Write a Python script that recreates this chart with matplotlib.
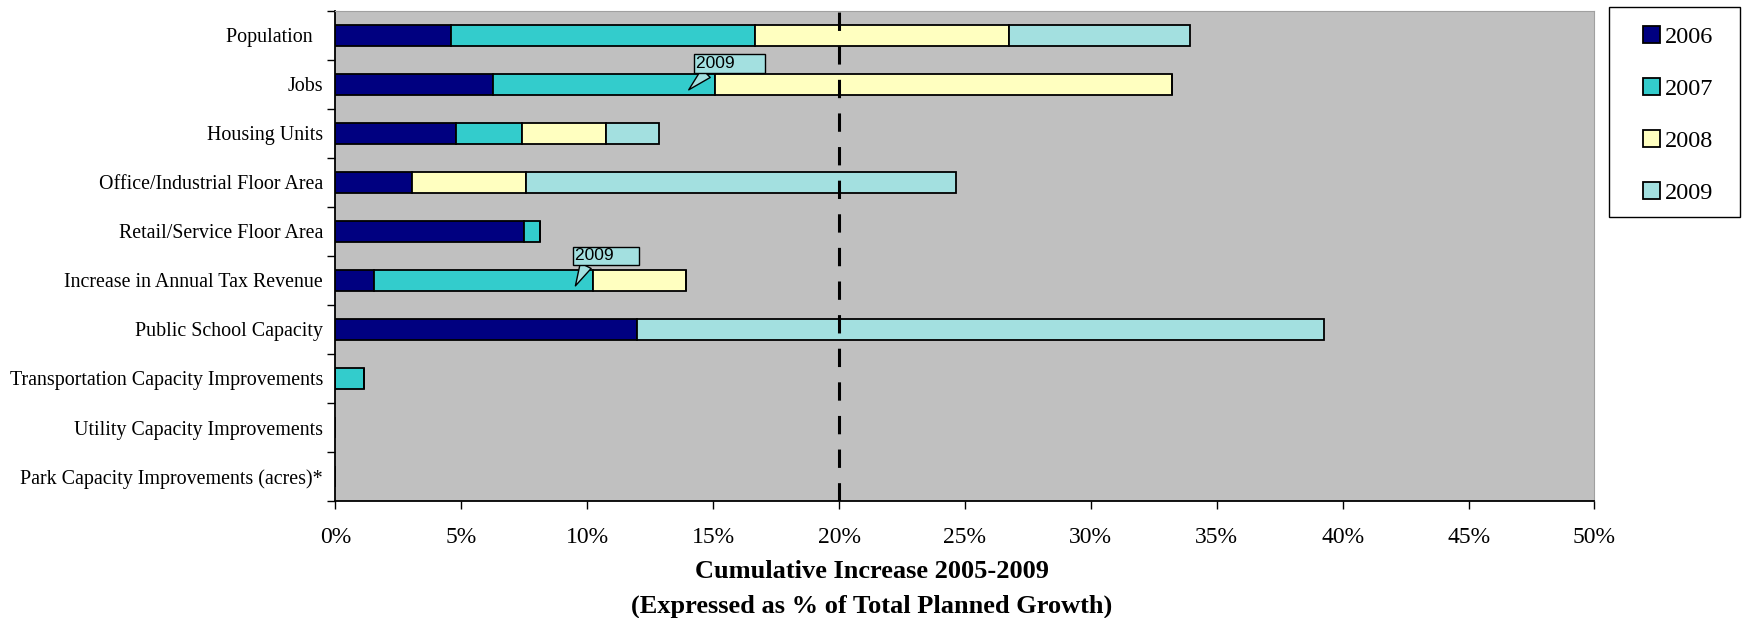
import matplotlib.pyplot as plt
import numpy as np
from matplotlib.ticker import FuncFormatter
from matplotlib.patches import Rectangle

# data (fraction of total planned growth added in each year)
categories = ["Population  ", "Jobs", "Housing Units", "Office/Industrial Floor Area",
              "Retail/Service Floor Area", "Increase in Annual Tax Revenue",
              "Public School Capacity", "Transportation Capacity Improvements",
              "Utility Capacity Improvements", "Park Capacity Improvements (acres)*"]
years = ["2006", "2007", "2008", "2009"]
v2006 = [0.046, 0.0624, 0.0478, 0.0305, 0.0747, 0.0155, 0.1198, 0.0, 0.0, 0.0]
v2007 = [0.1206, 0.0884, 0.0264, 0.0, 0.0066, 0.0869, 0.0, 0.0115, 0.0, 0.0]
v2008 = [0.101, 0.1815, 0.0331, 0.0451, 0.0, 0.0369, 0.0, 0.0, 0.0, 0.0]
v2009 = [0.0716, 0.0, 0.0212, 0.1707, 0.0, 0.0, 0.2726, 0.0, 0.0, 0.0]
colors = ["#000080", "#33CCCC", "#FFFFC0", "#A3E0E0"]
target = 0.20

plt.rcParams['font.family'] = ['Liberation Serif', 'DejaVu Serif']

fig = plt.figure(figsize=(17.47, 6.18), dpi=100)
ax = fig.add_axes([0.192, 0.1893, 0.7207, 0.793])
ax.set_facecolor("#C0C0C0")

y = np.arange(len(categories))
left = np.zeros(len(categories))
bars = []
for vals, c, lab in zip([v2006, v2007, v2008, v2009], colors, years):
    vals = np.array(vals)
    b = ax.barh(y, vals, left=left, height=0.43, color=c, edgecolor="black",
                linewidth=1.3, label=lab)
    bars.append(b)
    left = left + vals

ax.axvline(target, color="black", lw=2.2, dashes=(6, 5), zorder=3)

ax.set_xlim(0, 0.5)
ax.set_ylim(len(categories) - 0.5, -0.5)
ax.set_xticks(np.arange(0, 0.501, 0.05))
ax.xaxis.set_major_formatter(FuncFormatter(lambda v, p: f"{v*100:.0f}%"))
ax.tick_params(axis='x', direction='out', length=6, width=1, pad=13, labelsize=17)
ax.set_yticks(y, categories)
ax.tick_params(axis='y', length=0, pad=9, labelsize=14.4)
ax.set_yticks(np.arange(len(categories) + 1) - 0.5, minor=True)
ax.tick_params(axis='y', which='minor', direction='out', length=6, width=1)

for s in ["left", "bottom"]:
    ax.spines[s].set_color("black")
    ax.spines[s].set_linewidth(1.3)
for s in ["top", "right"]:
    ax.spines[s].set_color("#A0A0A0")

ax.set_xlabel("Cumulative Increase 2005-2009\n(Expressed as % of Total Planned Growth)",
              fontsize=19, fontweight="bold", linespacing=1.6)
ax.xaxis.set_label_coords(0.426, -0.121)

# callouts for 2009 values that are missing from the bars
callout = dict(boxstyle="square,pad=0.1", fc=colors[3], ec="black", lw=1)
ax.annotate("2009      ", xy=(v2006[1] + v2007[1] - 0.0105, 1.11), xytext=(0.1430, 0.57),
            fontsize=12.5, family=["Liberation Sans"], ha="left", va="center",
            bbox=callout, zorder=5,
            arrowprops=dict(arrowstyle="wedge,tail_width=0.7", fc=colors[3], ec="black",
                            lw=1, shrinkA=0, shrinkB=0, relpos=(0.2, 0.05)))
ax.annotate("2009     ", xy=(v2006[5] + v2007[5] - 0.0071, 5.11), xytext=(0.0950, 4.5),
            fontsize=12.5, family=["Liberation Sans"], ha="left", va="center",
            bbox=callout, zorder=5,
            arrowprops=dict(arrowstyle="wedge,tail_width=0.7", fc=colors[3], ec="black",
                            lw=1, shrinkA=0, shrinkB=0, relpos=(0.2, 0.05)))

# legend box drawn separately so the padding matches
fig.patches.append(Rectangle((0.921, 0.649), 0.075, 0.340, transform=fig.transFigure,
                             fc="white", ec="black", lw=1, zorder=0))
leg = fig.legend(handles=bars, labels=years, loc="upper left",
                 bbox_to_anchor=(0.9405, 0.958), fontsize=17.5, frameon=False,
                 handlelength=0.7, handleheight=0.7, labelspacing=1.23, borderpad=0,
                 handletextpad=0.2, borderaxespad=0)

fig.savefig("out.png", dpi=100)
